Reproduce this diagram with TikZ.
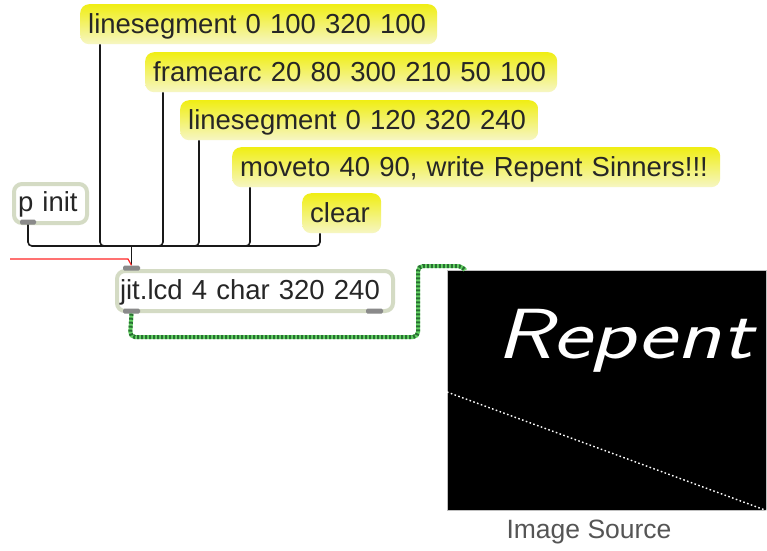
\documentclass[tikz,border=0pt]{standalone}
\usepackage{fontspec}
\newfontfamily\maxfont{Liberation Sans}
\usetikzlibrary{calc}
\definecolor{msgtop}{RGB}{240,238,20}
\definecolor{msgbot}{RGB}{246,246,196}
\definecolor{objborder}{RGB}{212,219,196}
\definecolor{portgray}{RGB}{138,138,138}
\definecolor{cordlight}{RGB}{100,210,100}
\definecolor{corddark}{RGB}{40,110,50}
\definecolor{captiongray}{RGB}{85,85,85}
\tikzset{
  msg/.style={rounded corners=9pt, top color=msgtop, bottom color=msgbot,
    minimum height=40pt, inner xsep=8pt, inner ysep=0pt, anchor=north west,
    align=left, text height=20pt, text depth=2pt,
    font=\maxfont\fontsize{27.5}{30}\selectfont, text=black!85},
  obj/.style={draw=objborder, line width=4pt, fill=white, rounded corners=8pt,
    inner ysep=0pt, anchor=north west, align=left, text height=20pt, text depth=4pt,
    font=\maxfont\fontsize{27.5}{30}\selectfont, text=black!85},
  port/.style={fill=portgray, rounded corners=1.5pt, minimum width=17pt,
    minimum height=5pt, inner sep=0pt},
  conn/.style={draw=black!90, line width=1.6pt, rounded corners=4pt},
}
\begin{document}
\begin{tikzpicture}[x=1pt,y=-1pt]
\path[use as bounding box, fill=white] (0,0) rectangle (767,550);

% message boxes
\node[msg, text width=341pt] (m1) at (80,4) {\mbox{linesegment 0 100 320 100}};
\node[msg, text width=396pt] (m2) at (145,52) {\mbox{framearc 20 80 300 210 50 100}};
\node[msg, text width=342pt] (m3) at (180,100) {\mbox{linesegment 0 120 320 240}};
\node[msg, text width=472pt] (m4) at (232,147) {\mbox{moveto 40 90, write Repent Sinners!!!}};
\node[msg, text width=63pt] (m5) at (302,193) {\mbox{clear}};

% objects
\node[obj, text width=65pt, inner xsep=4pt, minimum height=39pt] (pinit) at (12,182) {\mbox{p init}};
\node[obj, text width=270pt, inner xsep=3pt, minimum height=40pt] (jit) at (115,269) {\mbox{jit.lcd 4 char 320 240}};

% ports
\node[port, minimum width=16pt] (pout) at (28,222) {};
\node[port] (jin) at (131.5,268) {};
\node[port] (jout) at (131.5,311) {};
\node[port] (jout2) at (374.5,311) {};

% bus
\coordinate (bus) at (131.5,246);
\draw[conn] ($(m1.south west)+(20,0)$) |- (bus);
\draw[conn] ($(m2.south west)+(18,0)$) |- (bus);
\draw[conn] ($(m3.south west)+(19,0)$) |- (bus);
\draw[conn] ($(m4.south west)+(18,0)$) |- (bus);
\draw[conn] ($(m5.south west)+(18,0)$) |- (bus);
\draw[conn] (pout.south) |- (bus);
\draw[conn] (bus) -- (jin.north);

% red line
\coordinate (redstart) at (10,259);
\draw[red!85!white, line width=1.2pt] (redstart) -- (128,259) -- (jin.north);

% display
\node[fill=black, draw=gray!50, line width=0.6pt, minimum width=319pt, minimum height=240pt,
  inner sep=0pt, anchor=north west] (disp) at (447,270) {};
\node[anchor=base west, text=white, inner sep=0pt, xscale=1.3,
  font=\sffamily\slshape\fontsize{71}{80}\selectfont] (repent) at (496,358) {Repent};
\coordinate (diagstart) at ($(disp.north west)+(0,122)$);
\draw[white, line width=1.4pt, dash pattern=on 1.6pt off 2.4pt] (diagstart) -- (disp.south east);

% cord
\coordinate (cordend) at ($(disp.north west)+(18,0)$);
\draw[cordlight, line width=4pt, rounded corners=5pt]
  (jout.south) -- (130,337) -- (418,337) -- (418,266) -- (462,266) -- (cordend);
\draw[corddark, line width=4pt, rounded corners=5pt, dash pattern=on 2pt off 2pt]
  (jout.south) -- (130,337) -- (418,337) -- (418,266) -- (462,266) -- (cordend);

% caption
\node[text=captiongray, font=\maxfont\fontsize{26.5}{30}\selectfont] (caption) at (589,532) {Image Source};
\end{tikzpicture}
\end{document}
